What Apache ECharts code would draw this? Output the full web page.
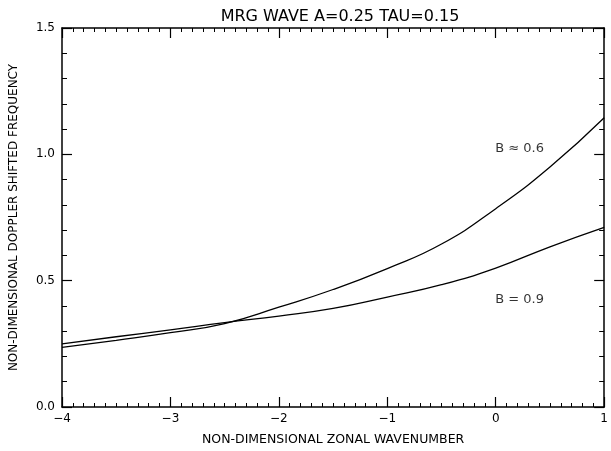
<!DOCTYPE html>
<html><head><meta charset="utf-8">
<script src="https://cdn.jsdelivr.net/npm/echarts@6/dist/echarts.min.js"></script>
<style>html,body{margin:0;padding:0;background:#fff}#c{width:611px;height:451px}</style>
</head><body><div id="c"></div>
<script>
const titleText = 'MRG WAVE A=0.25 TAU=0.15';
const xTitle = 'NON-DIMENSIONAL ZONAL WAVENUMBER';
const yTitle = 'NON-DIMENSIONAL DOPPLER SHIFTED FREQUENCY';
const wavenumbers = [-4, -3.5, -3, -2.5, -2, -1.5, -1, -0.5, 0, 0.5, 1];
const freqB06 = [0.236, 0.264, 0.294, 0.330, 0.395, 0.465, 0.548, 0.645, 0.785, 0.950, 1.145];
const freqB09 = [0.250, 0.278, 0.305, 0.334, 0.360, 0.390, 0.435, 0.484, 0.550, 0.634, 0.711];
const curveLabels = ['B \u2248 0.6', 'B = 0.9'];
const curveLabelAt = [[0.0, 1.02], [0.0, 0.42]];

const FONT = 'DejaVu Sans';
const black = '#000';
function pairs(xs, ys) { return xs.map((x, i) => [x, ys[i]]); }
function axisCommon(extra) {
  return Object.assign({
    type: 'value',
    axisLine: { show: true, onZero: false, lineStyle: { color: black, width: 1.5 } },
    axisTick: { show: true, inside: true, length: 10, lineStyle: { color: black, width: 1.2 } },
    minorTick: { show: true, length: 5, lineStyle: { color: black, width: 1 } },
    splitLine: { show: false },
    minorSplitLine: { show: false }
  }, extra);
}
const xBase = { min: -4, max: 1, interval: 1 };
const yBase = { min: 0, max: 1.5, interval: 0.5 };

const chart = echarts.init(document.getElementById('c'), null, { renderer: 'canvas' });
chart.setOption({
  backgroundColor: '#fff',
  animation: false,
  title: {
    text: titleText, left: 335, top: 4, textAlign: 'center',
    textStyle: { fontFamily: FONT, fontSize: 16, fontWeight: 'normal', color: black }
  },
  grid: { left: 61, right: 2, top: 28, bottom: 39, containLabel: false },
  xAxis: [
    axisCommon(Object.assign({}, xBase, {
      position: 'bottom',
      minorTick: { show: true, splitNumber: 10, length: 4, lineStyle: { color: black, width: 1 } },
      axisLabel: { show: true, margin: 6, color: black, fontFamily: FONT, fontSize: 12,
        formatter: v => (v < 0 ? '\u2212' + Math.abs(v) : String(v)) },
      name: xTitle, nameLocation: 'middle', nameGap: 26,
      nameTextStyle: { fontFamily: FONT, fontSize: 12.5, color: black }
    })),
    axisCommon(Object.assign({}, xBase, {
      position: 'top',
      minorTick: { show: true, splitNumber: 10, length: 4, lineStyle: { color: black, width: 1 } },
      axisLabel: { show: false }
    }))
  ],
  yAxis: [
    axisCommon(Object.assign({}, yBase, {
      position: 'left',
      minorTick: { show: true, splitNumber: 5, length: 5, lineStyle: { color: black, width: 1 } },
      axisLabel: { show: true, margin: 7, color: black, fontFamily: FONT, fontSize: 12,
        formatter: v => v.toFixed(1) },
      name: yTitle, nameLocation: 'middle', nameGap: 42, nameRotate: 90,
      nameTextStyle: { fontFamily: FONT, fontSize: 12, color: black }
    })),
    axisCommon(Object.assign({}, yBase, {
      position: 'right',
      minorTick: { show: true, splitNumber: 5, length: 5, lineStyle: { color: black, width: 1 } },
      axisLabel: { show: false }
    }))
  ],
  series: [
    { type: 'line', name: curveLabels[0], data: pairs(wavenumbers, freqB06), smooth: 0.5,
      showSymbol: false, lineStyle: { color: black, width: 1.3 }, xAxisIndex: 0, yAxisIndex: 0 },
    { type: 'line', name: curveLabels[1], data: pairs(wavenumbers, freqB09), smooth: 0.5,
      showSymbol: false, lineStyle: { color: black, width: 1.3 }, xAxisIndex: 0, yAxisIndex: 0 },
    { type: 'scatter', data: curveLabelAt.map((p, i) => ({ value: p, label: { formatter: curveLabels[i] } })),
      symbolSize: 1, itemStyle: { color: 'rgba(0,0,0,0)' },
      label: { show: true, position: [0, -7], align: 'left', color: black, fontFamily: FONT, fontSize: 13 } }
  ]
});
</script>
</body></html>
